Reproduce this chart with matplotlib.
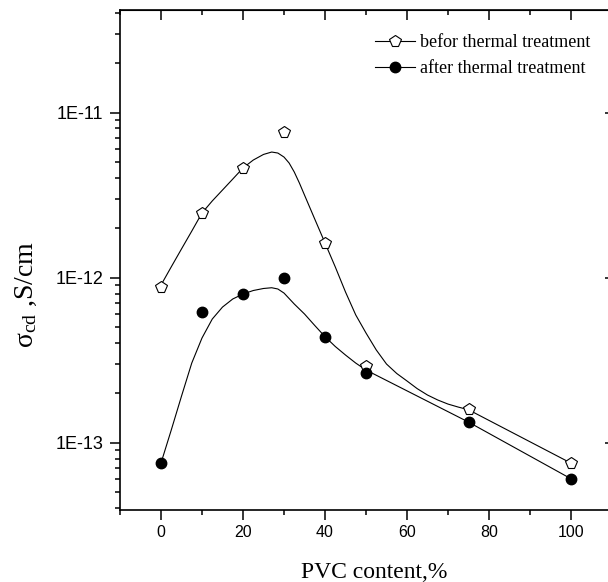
import matplotlib
matplotlib.use("Agg")
import matplotlib.pyplot as plt
import numpy as np
from matplotlib.ticker import FuncFormatter, LogLocator, NullFormatter, NullLocator, MultipleLocator

# measured points
pvc = [0, 10, 20, 30, 40, 50, 75, 100]
sigma_before = [8.8e-13, 2.46e-12, 4.6e-12, 7.6e-12, 1.62e-12, 2.89e-13, 1.59e-13, 7.5e-14]
sigma_after = [7.5e-14, 6.2e-13, 7.97e-13, 9.9e-13, 4.38e-13, 2.63e-13, 1.33e-13, 6.0e-14]

# fitted curves
fit_x_before = [0, 2.5, 5, 7.5, 10, 12.5, 15, 17.5, 20, 22.5, 25, 27, 28.5, 30,
                31.25, 32.5, 33.75, 35, 37.5, 40, 42.5, 45, 47.5, 50, 52.5, 55,
                57.5, 60, 62.5, 65, 67.5, 70, 72.5, 75, 100]
fit_before = [9.0e-13, 1.16e-12, 1.49e-12, 1.91e-12, 2.46e-12, 2.91e-12, 3.39e-12,
              3.95e-12, 4.61e-12, 5.15e-12, 5.57e-12, 5.76e-12, 5.68e-12, 5.37e-12,
              4.94e-12, 4.36e-12, 3.74e-12, 3.16e-12, 2.26e-12, 1.62e-12, 1.16e-12,
              8.17e-13, 5.93e-13, 4.61e-13, 3.64e-13, 2.99e-13, 2.62e-13, 2.36e-13,
              2.12e-13, 1.94e-13, 1.81e-13, 1.71e-13, 1.64e-13, 1.58e-13, 7.5e-14]
fit_x_after = [0, 2.5, 5, 7.5, 10, 12.5, 15, 17.5, 20, 22.5, 25, 27, 28.5, 30, 32.5,
               35, 37.5, 40, 42.5, 45, 47.5, 50, 75, 100]
fit_after = [7.51e-14, 1.19e-13, 1.91e-13, 3.03e-13, 4.30e-13, 5.60e-13, 6.62e-13,
             7.41e-13, 7.94e-13, 8.34e-13, 8.58e-13, 8.67e-13, 8.52e-13, 8.05e-13,
             6.91e-13, 6.01e-13, 5.12e-13, 4.38e-13, 3.82e-13, 3.39e-13, 3.03e-13,
             2.75e-13, 1.33e-13, 6.03e-14]

labels = ["befor thermal treatment", "after thermal treatment"]

plt.rcParams["font.family"] = "Liberation Sans"
plt.rcParams["mathtext.fontset"] = "custom"
plt.rcParams["mathtext.rm"] = "Liberation Serif"
plt.rcParams["mathtext.it"] = "Liberation Serif:italic"

W, H = 608, 582
fig = plt.figure(figsize=(W / 100, H / 100), dpi=100)
ax = fig.add_axes([120 / W, (H - 510) / H, 492 / W, 500 / H])

lw = 0.8
ax.plot(fit_x_before, fit_before, color="black", lw=lw, solid_joinstyle="round")
ax.plot(fit_x_after, fit_after, color="black", lw=lw, solid_joinstyle="round")
ax.plot(pvc, sigma_before, linestyle="none", marker="p", ms=8.5,
        mfc="white", mec="black", mew=0.8)
ax.plot(pvc, sigma_after, linestyle="none", marker="o", ms=7.5,
        mfc="black", mec="black")

# legend handles: line with marker
h1, = ax.plot([], [], color="black", lw=lw, marker="p", ms=8.5, mfc="white",
              mec="black", mew=0.8)
h2, = ax.plot([], [], color="black", lw=lw, marker="o", ms=7.5, mfc="black")
ax.legend([h1, h2], labels, loc="upper right", bbox_to_anchor=(0.99, 0.984),
          frameon=False, prop={"family": "Liberation Serif", "size": 13},
          handlelength=2.2, handletextpad=0.3, labelspacing=0.5)

ax.set_yscale("log")
ax.set_xlim(-10, 110)
ax.set_ylim(3.9e-14, 4.18e-11)

ax.xaxis.set_major_locator(MultipleLocator(20))
ax.xaxis.set_minor_locator(MultipleLocator(10))
ax.yaxis.set_major_locator(LogLocator(base=10))
ax.yaxis.set_minor_locator(LogLocator(base=10, subs=np.arange(2, 10)))
ax.yaxis.set_minor_formatter(NullFormatter())
ax.yaxis.set_major_formatter(FuncFormatter(lambda v, _: f"1E{int(round(np.log10(v)))}"))

ax.tick_params(which="major", direction="out", length=7, width=1.1, labelsize=11.5, pad=4)
ax.tick_params(axis="y", which="major", labelsize=13, pad=5)
ax.tick_params(which="minor", direction="out", length=3.8, width=1.1)

for s in ax.spines.values():
    s.set_linewidth(1.2)

# top and right ticks point inwards
top = ax.secondary_xaxis("top")
top.xaxis.set_major_locator(MultipleLocator(20))
top.xaxis.set_minor_locator(MultipleLocator(10))
top.tick_params(which="major", direction="in", length=7, width=1.1, labeltop=False)
top.tick_params(which="minor", direction="in", length=3.8, width=1.1)
right = ax.secondary_yaxis("right")
right.yaxis.set_major_locator(LogLocator(base=10))
right.yaxis.set_minor_locator(NullLocator())
right.tick_params(which="major", direction="in", length=5, width=1.1, labelright=False)

ax.set_xlabel("PVC content,%", fontfamily="Liberation Serif", fontsize=17)
ax.set_ylabel("σ$_{\\rm cd}$ ,S/cm", fontfamily="Liberation Serif", fontsize=20)
ax.xaxis.set_label_coords(0.516, -0.104)
ax.yaxis.set_label_coords(-0.165, 0.43)

fig.savefig("out.png", dpi=100)
